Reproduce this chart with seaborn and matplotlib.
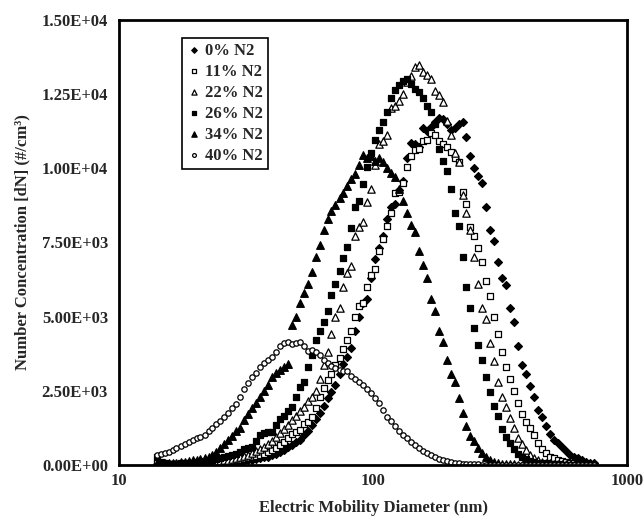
import matplotlib
matplotlib.use("Agg")
import matplotlib.pyplot as plt
import seaborn as sns
from matplotlib.ticker import FixedLocator, FuncFormatter, NullLocator

# canali SMPS (nm)
diametri = [14.1, 14.6, 15.1, 15.7, 16.3, 16.8, 17.5, 18.1, 18.8, 19.5,
            20.2, 20.9, 21.7, 22.5, 23.3, 24.1, 25.0, 25.9, 26.9, 27.9,
            28.9, 30.0, 31.1, 32.2, 33.4, 34.6, 35.9, 37.2, 38.5, 40.0,
            41.4, 42.9, 44.5, 46.1, 47.8, 49.6, 51.4, 53.3, 55.2, 57.3,
            59.4, 61.5, 63.8, 66.1, 68.5, 71.0, 73.7, 76.4, 79.1, 82.0,
            85.1, 88.2, 91.4, 94.7, 98.2, 101.8, 105.5, 109.4, 113.4, 117.6,
            121.9, 126.3, 131.0, 135.8, 140.7, 145.9, 151.2, 156.8, 162.5, 168.5,
            174.7, 181.1, 187.7, 194.6, 201.7, 209.1, 216.7, 224.7, 232.9, 241.4,
            250.3, 259.5, 269.0, 278.8, 289.0, 299.6, 310.6, 322.0, 333.8, 346.0,
            358.7, 371.8, 385.4, 399.5, 414.2, 429.4, 445.1, 461.4, 478.3, 495.8,
            514.0, 532.8, 552.3, 572.5, 593.5, 615.3, 637.8, 661.2, 685.4, 710.5,
            736.5]

n2_0 = [20, 10, 10, 10, 10, 10, 10, 10, 20, 20,
        20, 20, 30, 30, 40, 40, 50, 60, 70, 80,
        90, 110, 130, 150, 170, 200, 220, 250, 270, 320,
        380, 440, 510, 590, 680, 760, 850, 1000, 1150, 1330,
        1550, 1750, 2000, 2250, 2450, 2700, 3050, 3400, 3650, 3950,
        4500, 5000, 5450, 5600, 6300, 6950, 7300, 7700, 8300, 8700,
        8800, 9250, 9550, 10350, 10850, 10800, 10700, 11350, 11250, 11400,
        11550, 11700, 11650, 11500, 11300, 11350, 11500, 11550, 11050, 10400,
        10000, 9750, 9500, 8700, 7900, 7550, 6850, 6300, 6050, 5300,
        4800, 4000, 3350, 3050, 2650, 2300, 1850, 1600, 1300, 1050,
        850, 740, 600, 480, 340, 280, 220, 150, 100, 80,
        60]

n2_11 = [80, 40, 30, 20, 20, 20, 20, 30, 30, 30,
         40, 40, 50, 50, 60, 70, 80, 90, 110, 130,
         150, 170, 200, 230, 260, 300, 340, 380, 440, 500,
         580, 680, 780, 900, 1050, 1120, 1180, 1380, 1450, 1600,
         1900, 2300, 2600, 2850, 3050, 3350, 3600, 3900, 4200, 4500,
         5000, 5350, 5450, 6000, 6400, 6600, 7200, 7600, 8050, 8500,
         9150, 9200, 9500, 10050, 10400, 10600, 10650, 10900, 10950, 11200,
         11100, 10900, 10800, 10700, 10550, 10350, 10200, 9200, 8800, 8000,
         7700, 7300, 6850, 6200, 5700, 5000, 4400, 3800, 3300, 2900,
         2500, 2100, 1700, 1450, 1250, 1000, 750, 550, 400, 280,
         220, 170, 130, 100, 70, 50, 40, 30, 20, 10,
         10]

n2_22 = [30, 20, 20, 20, 30, 30, 40, 40, 50, 50,
         60, 70, 80, 90, 100, 120, 140, 160, 180, 210,
         240, 270, 300, 330, 400, 470, 520, 600, 700, 800,
         940, 1080, 1220, 1350, 1500, 1650, 1800, 1950, 2150, 2300,
         2500, 2900, 3350, 3800, 4400, 5000, 5300, 6000, 6450, 6700,
         7700, 8000, 8200, 8850, 9300, 10100, 10800, 10900, 11120, 12030,
         12100, 12250, 12500, 12900, 13100, 13400, 13480, 13250, 13150, 13000,
         12600, 12450, 12230, 11600, 11100, 10500, 10200, 9100, 8500, 7900,
         7000, 6100, 5300, 4900, 4100, 3500, 2800, 2290, 1950, 1580,
         1250, 900, 700, 500, 320, 220, 160, 110, 80, 60,
         40, 30, 20, 20, 10, 10, 10, 10, 10, 10,
         10]

n2_26 = [270, 100, 50, 40, 40, 40, 50, 60, 70, 80,
         90, 100, 120, 140, 160, 190, 220, 260, 300, 340,
         380, 450, 520, 560, 610, 800, 1000, 1080, 1100, 1120,
         1350, 1550, 1650, 1800, 1960, 2300, 2630, 2800, 3300, 3700,
         4200, 4500, 4820, 5200, 5730, 6100, 6550, 6980, 7350, 7990,
         8700, 8900, 9450, 10050, 10500, 10950, 11300, 11560, 11900, 12370,
         12640, 12800, 12950, 13000, 12850, 12650, 12550, 12350, 12100, 11900,
         11500, 10650, 10250, 9900, 9300, 8500, 8050, 7000, 6000, 5300,
         4600, 4050, 3550, 2950, 2450, 2000, 1650, 1200, 950, 750,
         520, 380, 280, 200, 140, 100, 70, 50, 40, 30,
         20, 20, 10, 10, 10, 10, 10, 10, 10, 10,
         10]

n2_34 = [60, 50, 50, 60, 70, 80, 90, 110, 130, 150,
         180, 210, 240, 270, 330, 420, 560, 700, 850, 980,
         1130, 1250, 1500, 1700, 1900, 2100, 2300, 2500, 2700, 2950,
         3100, 3200, 3300, 3400, 4700, 5000, 5450, 5800, 6100, 6500,
         7000, 7400, 7900, 8300, 8550, 8750, 9000, 9150, 9400, 9650,
         9800, 10100, 10450, 10350, 10400, 10250, 10350, 10200, 10000, 9850,
         9700, 9300, 8900, 8500, 8100, 7850, 7200, 6750, 6300, 5600,
         5200, 4500, 4150, 3550, 3050, 2800, 2250, 1750, 1300, 980,
         800, 560, 400, 270, 150, 90, 60, 40, 30, 20,
         20, 10, 10, 10, 10, 10, 0, 0, 0, 0,
         0, 0, 0, 0, 0, 0, 0, 0, 0, 0,
         0]

n2_40 = [340, 360, 400, 430, 500, 570, 620, 700, 780, 840,
         900, 940, 1020, 1130, 1250, 1380, 1480, 1620, 1750, 1900,
         2050, 2300, 2550, 2750, 2950, 3100, 3300, 3420, 3550, 3650,
         3800, 4000, 4100, 4150, 4080, 4100, 4150, 4000, 3850, 3880,
         3800, 3700, 3550, 3420, 3320, 3250, 3200, 3180, 3150, 3000,
         2900, 2780, 2690, 2550, 2430, 2250, 2100, 1850, 1600, 1480,
         1300, 1150, 1000, 900, 780, 680, 580, 480, 400, 330,
         260, 210, 160, 130, 100, 80, 60, 45, 35, 25,
         20, 15, 10, 10, 5, 5, 5, 0, 0, 0,
         0, 0, 0, 0, 0, 0, 0, 0, 0, 0,
         0, 0, 0, 0, 0, 0, 0, 0, 0, 0,
         0]

etichette = ["0% N2", "11% N2", "22% N2", "26% N2", "34% N2", "40% N2"]
serie = [n2_0, n2_11, n2_22, n2_26, n2_34, n2_40]
# marker, riempimento, dimensione
stili = [("D", "black", 16), ("s", "white", 24), ("^", "white", 28),
         ("s", "black", 24), ("^", "black", 30), ("o", "white", 15)]

sns.set_style("white")
plt.rcParams["font.family"] = ["Liberation Serif", "DejaVu Serif"]
plt.rcParams["font.weight"] = "bold"

fig = plt.figure(figsize=(6.44, 5.2), dpi=100)
ax = fig.add_axes([0.185, 0.106, 0.789, 0.856])

for lab, vals, (mk, fc, sz) in zip(etichette, serie, stili):
    sns.scatterplot(x=diametri, y=vals, marker=mk, color=fc, edgecolor="black",
                    linewidth=0.9, s=sz, ax=ax, label=lab)

ax.set_xscale("log")
ax.set_xlim(10, 1000)
ax.set_ylim(0, 15000)
ax.xaxis.set_major_locator(FixedLocator([10, 100, 1000]))
ax.xaxis.set_minor_locator(NullLocator())
ax.xaxis.set_major_formatter(FuncFormatter(lambda v, p: f"{v:.0f}"))
ax.yaxis.set_major_locator(FixedLocator([0, 2500, 5000, 7500, 10000, 12500, 15000]))
ax.yaxis.set_major_formatter(FuncFormatter(lambda v, p: f"{v:.2E}"))

for sp in ax.spines.values():
    sp.set_linewidth(2)
    sp.set_color("black")
ax.tick_params(axis="x", direction="in", length=5, width=1.5, labelsize=12, pad=6)
ax.tick_params(axis="y", direction="out", length=5, width=1.5, labelsize=12, pad=3)

ax.set_xlabel("Electric Mobility Diameter (nm)", fontsize=12, fontweight="bold", labelpad=8)
ax.set_ylabel("Number Concentration [dN] (#/cm³)", fontsize=12, fontweight="bold", labelpad=8)

leg = ax.legend(loc="upper left", bbox_to_anchor=(0.124, 0.96), borderaxespad=0,
                fancybox=False, framealpha=1, edgecolor="black",
                prop={"weight": "bold", "size": 12},
                handletextpad=0.3, handlelength=0.8, borderpad=0.3, labelspacing=0.3,
                markerscale=0.7)
leg.get_frame().set_linewidth(1.2)

plt.savefig("out.png", dpi=100)
plt.close()
